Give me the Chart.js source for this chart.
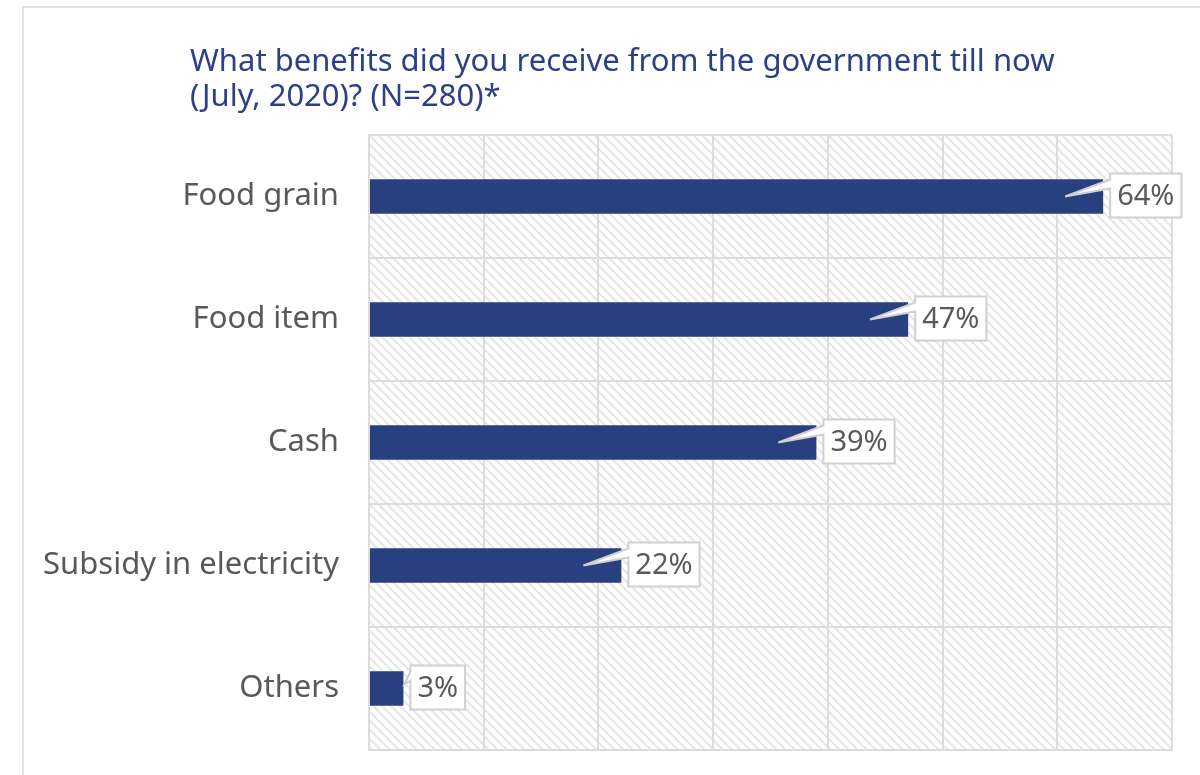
<!DOCTYPE html>
<html lang="en">
<head>
    <meta charset="UTF-8">
    <title>Benefits received from the government</title>
    <script src="https://cdn.jsdelivr.net/npm/chart.js"></script>
    <style>
        html, body { margin: 0; padding: 0; background: #fff; }
        .frame {
            position: absolute; left: 22px; top: 6px; right: -10px; bottom: -10px;
            border: 2px solid #e3e3e3;
        }
        .wrap { position: absolute; left: 0; top: 0; width: 1200px; height: 775px; }
    </style>
</head>
<body>
    <div class="frame"></div>
    <div class="wrap">
        <canvas id="benefitsChart" width="1200" height="775"></canvas>
    </div>

    <script>
        // dados do gráfico
        const categorias = ['Food grain', 'Food item', 'Cash', 'Subsidy in electricity', 'Others'];
        const percentuais = [64, 47, 39, 22, 3];
        const tituloLinhas = [
            'What benefits did you receive from the government till now',
            '(July, 2020)? (N=280)*'
        ];

        const corBarra = '#284080';
        const corTexto = '#595959';
        const corGrade = '#dcdcdc';
        const fonte = '"Noto Sans", "Open Sans", sans-serif';

        // padrão listrado diagonal para o fundo da área do gráfico
        function criaHachura(ctx) {
            const c = document.createElement('canvas');
            c.width = 9; c.height = 9;
            const p = c.getContext('2d');
            p.strokeStyle = '#e6e6e6';
            p.lineWidth = 2;
            p.beginPath();
            p.moveTo(-1, -1); p.lineTo(10, 10);
            p.moveTo(-1, 8); p.lineTo(1, 10);
            p.moveTo(8, -1); p.lineTo(10, 1);
            p.stroke();
            return ctx.createPattern(c, 'repeat');
        }

        const fundoPlugin = {
            id: 'fundo',
            beforeDraw(chart) {
                const { ctx, chartArea: a } = chart;
                ctx.save();
                ctx.fillStyle = criaHachura(ctx);
                ctx.fillRect(a.left, a.top, a.right - a.left, a.bottom - a.top);
                ctx.restore();
            }
        };

        const tituloPlugin = {
            id: 'titulo',
            afterDraw(chart) {
                const ctx = chart.ctx;
                ctx.save();
                ctx.fillStyle = '#2b4086';
                ctx.font = '31px ' + fonte;
                ctx.textBaseline = 'alphabetic';
                ctx.textAlign = 'left';
                ctx.fillText(tituloLinhas[0], 190, 71);
                ctx.fillText(tituloLinhas[1], 190, 106);
                ctx.restore();
            }
        };

        // rótulos em caixa com ponteiro apontando para dentro da barra
        const rotuloPlugin = {
            id: 'rotulos',
            afterDatasetsDraw(chart) {
                const ctx = chart.ctx;
                const meta = chart.getDatasetMeta(0);
                ctx.save();
                ctx.font = '29px ' + fonte;
                meta.data.forEach((bar, i) => {
                    const texto = percentuais[i] + '%';
                    const w = ctx.measureText(texto).width + 14;
                    const h = 44;
                    const left = bar.x + 7;
                    const top = bar.y - 23;
                    const comprimento = bar.x - bar.base;
                    const apexX = comprimento > 80 ? bar.x - 38 : bar.x + 1;
                    const apexY = comprimento > 80 ? bar.y : bar.y - 4;

                    ctx.beginPath();
                    ctx.moveTo(left, top);
                    ctx.lineTo(left + w, top);
                    ctx.lineTo(left + w, top + h);
                    ctx.lineTo(left, top + h);
                    ctx.lineTo(left, top + 15);
                    ctx.lineTo(apexX, apexY);
                    ctx.lineTo(left, top + 6);
                    ctx.closePath();
                    ctx.fillStyle = '#ffffff';
                    ctx.fill();
                    ctx.strokeStyle = '#d0d0d0';
                    ctx.lineWidth = 2;
                    ctx.stroke();

                    ctx.fillStyle = corTexto;
                    ctx.textAlign = 'center';
                    ctx.textBaseline = 'middle';
                    ctx.fillText(texto, left + w / 2, top + h / 2 + 1);
                });
                ctx.restore();
            }
        };

        const ctx = document.getElementById('benefitsChart');
        new Chart(ctx, {
            type: 'bar',
            data: {
                labels: categorias,
                datasets: [{
                    data: percentuais,
                    backgroundColor: corBarra,
                    borderWidth: 0,
                    barPercentage: 0.28,
                    categoryPercentage: 1
                }]
            },
            options: {
                indexAxis: 'y',
                responsive: false,
                animation: false,
                layout: { padding: { top: 135, right: 28, bottom: 25, left: 0 } },
                plugins: {
                    legend: { display: false },
                    tooltip: { enabled: false }
                },
                scales: {
                    x: {
                        min: 0,
                        max: 70,
                        afterFit(scale) { scale.height = 0; },
                        ticks: { display: false, stepSize: 10 },
                        grid: { color: corGrade, lineWidth: 2, drawTicks: false },
                        border: { color: corGrade, width: 2 }
                    },
                    y: {
                        afterFit(scale) {
                            // largura fixa da coluna de rótulos, sem folga extra em cima/embaixo
                            scale.width = 369;
                            scale.paddingTop = 0;
                            scale.paddingBottom = 0;
                        },
                        ticks: {
                            color: corTexto,
                            font: { family: fonte, size: 31 },
                            padding: 30
                        },
                        grid: { color: corGrade, lineWidth: 2, drawTicks: false, offset: true },
                        border: { color: corGrade, width: 2 }
                    }
                }
            },
            plugins: [fundoPlugin, rotuloPlugin, tituloPlugin]
        });
    </script>
</body>
</html>
